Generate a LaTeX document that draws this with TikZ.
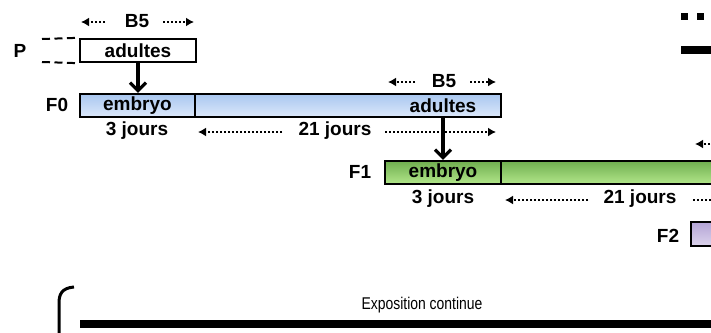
\documentclass[tikz,border=0pt]{standalone}
\usepackage{fontspec}
\setmainfont{Liberation Sans}
\usetikzlibrary{arrows.meta}
\definecolor{blueT}{HTML}{A9C7F0}
\definecolor{blueB}{HTML}{DCE8FA}
\definecolor{greenT}{HTML}{6FAE4F}
\definecolor{greenB}{HTML}{B2E68A}
\definecolor{purpT}{HTML}{B4A4D6}
\definecolor{purpB}{HTML}{DCD4EC}
\tikzset{
  lbl/.style={font=\fontsize{19}{21}\selectfont\bfseries, inner sep=0pt},
  bar/.style={draw=black, line width=2.4pt, inner sep=0pt, font=\fontsize{19}{21}\selectfont\bfseries},
  bluebar/.style={bar, top color=blueT, bottom color=blueB},
  greenbar/.style={bar, top color=greenT, bottom color=greenB},
  purpbar/.style={bar, top color=purpT, bottom color=purpB},
  dotarrow/.style={line width=2pt, dash pattern=on 2pt off 2pt, -{Latex[length=8pt,width=9pt]}},
  downarrow/.style={line width=3.2pt, -{Straight Barb[length=8pt,width=16pt,line width=3.2pt]}},
  dashline/.style={line width=2pt, dash pattern=on 8pt off 4.5pt},
}
\begin{document}
\begin{tikzpicture}[x=1pt,y=-1pt]
\useasboundingbox (0,0) rectangle (711,332);
\clip (0,0) rectangle (711,332);

% P generation
\node[lbl] (P) at (20,51) {P};
\node[bar, fill=white, minimum width=116pt, minimum height=23pt] (Pad) at (138,50.5) {adultes};
\coordinate (d1a) at (42,39); \coordinate (d2a) at (42,62);
\draw[dashline] (d1a) -- (Pad.north west);
\draw[dashline] (d2a) -- (Pad.south west);
\node[lbl] (B5a) at (137,21) {B5};
\coordinate (B5aL) at (81,22); \coordinate (B5aR) at (194,22);
\draw[dotarrow] (105,22) -- (B5aL);
\draw[dotarrow] (163,22) -- (B5aR);

% F0
\node[lbl] (F0) at (57,105) {F0};
\node[bluebar, minimum width=115pt, minimum height=23pt] (E0) at (137.5,105.5) {embryo};
\node[bluebar, minimum width=306pt, minimum height=23pt] (A0) at (348,105.5) {};
\node[lbl] (A0t) at (443,106) {adultes};
\node[lbl] (J3a) at (137,131) {3 jours};
\node[lbl] (J21a) at (335,131) {21 jours};
\coordinate (J21aL) at (198,132); \coordinate (J21aR) at (496,132);
\draw[dotarrow] (282,132) -- (J21aL);
\draw[dotarrow] (385,132) -- (J21aR);
\node[lbl] (B5b) at (444,81) {B5};
\coordinate (B5bL) at (388,82); \coordinate (B5bR) at (496,82);
\draw[dotarrow] (415,82) -- (B5bL);
\draw[dotarrow] (470,82) -- (B5bR);
\draw[downarrow] (Pad.south) -- (E0.north -| Pad.south);

% F1
\node[lbl] (F1) at (360,172) {F1};
\node[greenbar, minimum width=116pt, minimum height=23pt] (E1) at (443,172.5) {embryo};
\node[greenbar, minimum width=240pt, minimum height=23pt] (A1) at (621,172.5) {};
\node[lbl] (J3b) at (443,199) {3 jours};
\node[lbl] (J21b) at (640,199) {21 jours};
\coordinate (J21bL) at (505,200); \coordinate (J21bR) at (760,200);
\draw[dotarrow] (588,200) -- (J21bL);
\draw[dotarrow] (693,200) -- (J21bR);
\coordinate (B5cL) at (695,144);
\draw[dotarrow] (730,144) -- (B5cL);
\draw[downarrow] (A0.south -| E1.north) -- (E1.north);

% F2
\node[lbl] (F2) at (668,236) {F2};
\node[purpbar, minimum width=40pt, minimum height=24pt] (E2) at (711,234) {};

% legend (top right)
\fill[black] (681,13) rectangle (688,20);
\fill[black] (697,13) rectangle (704,20);
\fill[black] (681,46) rectangle (715,54);

% continuous exposure
\coordinate (brA) at (74,287);
\coordinate (brB) at (59,340);
\draw[line width=3pt] (brA) .. controls (62,288) and (59,294) .. (59,303) -- (brB);
\node[font=\fontsize{17}{19}\selectfont, xscale=0.82, inner sep=0pt] (Expo) at (422,305) {Exposition continue};
\fill[black] (80,320) rectangle (715,328);
\end{tikzpicture}
\end{document}
